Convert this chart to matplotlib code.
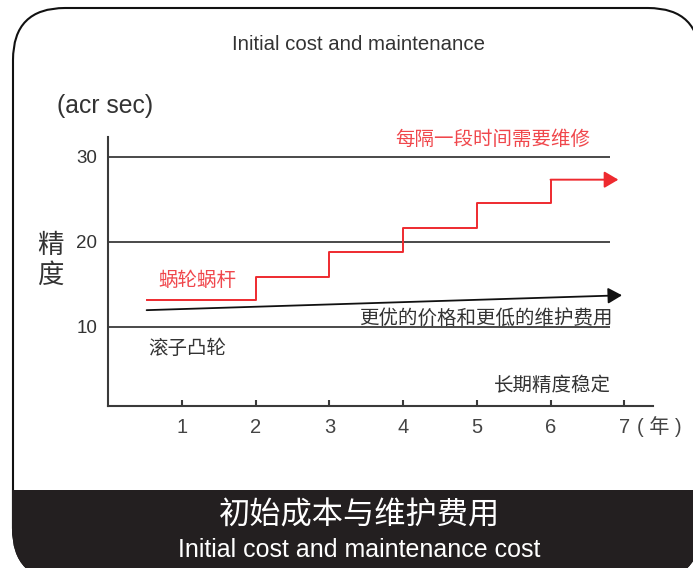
import matplotlib
matplotlib.use("Agg")
import matplotlib.pyplot as plt
from matplotlib.patches import FancyBboxPatch, Rectangle

plt.rcParams['font.family'] = ['Liberation Sans', 'Noto Sans CJK SC', 'DejaVu Sans']
CJK = ['Noto Sans CJK SC', 'DejaVu Sans']
MIX = ['Liberation Sans', 'Noto Sans CJK SC', 'DejaVu Sans']

# ---- data ----
years = [1, 2, 3, 4, 5, 6, 7]
y_ticks = [10, 20, 30]
step_x = [0.53, 2, 3, 4, 5, 6]          # where each red level starts
step_levels = [13.1, 15.9, 18.8, 21.6, 24.5, 27.3]
step_end_x = 6.92
black_x = [0.52, 6.97]
black_y = [11.95, 13.7]
grid_end_x = 6.81

RED = '#ee2a2f'
RED_TXT = '#f0474c'
DARK = '#3a3a3a'
TXT = '#333333'

W, H = 693, 568
fig = plt.figure(figsize=(W / 100, H / 100), dpi=100)

# background overlay in pixel coordinates
bg = fig.add_axes([0, 0, 1, 1], zorder=0)
bg.set_xlim(0, W)
bg.set_ylim(H, 0)
bg.axis('off')

frame = FancyBboxPatch((13, 8), 687, 572, boxstyle='round,pad=0,rounding_size=52',
                       fc='white', ec='#111111', lw=1.5)
bg.add_patch(frame)
band = FancyBboxPatch((13, 8), 687, 572, boxstyle='round,pad=0,rounding_size=52',
                      fc='#231f20', ec='#231f20', lw=1.5)
bg.add_patch(band)
clip = Rectangle((0, 490), W, 200, transform=bg.transData)
band.set_clip_path(clip)

bg.text(359, 44.5, 'Initial cost and maintenance', ha='center', va='center',
        fontsize=14.7, color=TXT)
bg.text(57, 106, '(acr sec)', ha='left', va='center', fontsize=17.8, color=TXT)
bg.text(50, 245, '精', ha='center', va='center', fontsize=19, color=TXT, family=CJK)
bg.text(50, 275, '度', ha='center', va='center', fontsize=19, color=TXT, family=CJK)

bg.text(395, 139, '每隔一段时间需要维修', ha='left', va='center', fontsize=14,
        color=RED_TXT, family=CJK)
bg.text(158, 280, '蜗轮蜗杆', ha='left', va='center', fontsize=14,
        color=RED_TXT, family=CJK)
bg.text(613, 318, '更优的价格和更低的维护费用', ha='right', va='center', fontsize=14,
        color=TXT, family=CJK)
bg.text(148, 348, '滚子凸轮', ha='left', va='center', fontsize=14,
        color=TXT, family=CJK)
bg.text(611, 385, '长期精度稳定', ha='right', va='center', fontsize=14,
        color=TXT, family=CJK)
bg.text(637, 427, '( 年 )', ha='left', va='center', fontsize=14.5,
        color='#444444', family=MIX)

bg.text(360, 516, '初始成本与维护费用', ha='center', va='center', fontsize=22.5,
        color='white', family=CJK)
bg.text(359, 550, 'Initial cost and maintenance cost', ha='center', va='center',
        fontsize=18, color='white')

# main axes
ax = fig.add_axes([108.3 / W, 1 - 405.7 / H, (653 - 108.3) / W, (405.7 - 137) / H], zorder=1)
ax.patch.set_alpha(0)
ax.set_xlim(0, 7.39)
ax.set_ylim(0.71, 32.32)
for s in ['top', 'right']:
    ax.spines[s].set_visible(False)
for s in ['left', 'bottom']:
    ax.spines[s].set_color(DARK)
    ax.spines[s].set_linewidth(1.5)

ax.set_yticks(y_ticks)
ax.set_yticklabels([str(v) for v in y_ticks])
ax.tick_params(axis='y', length=0, pad=8, labelsize=13.5, labelcolor=TXT)
ax.set_xticks(years)
ax.set_xticklabels([str(v) for v in years])
ax.tick_params(axis='x', direction='in', length=4, width=1.5, color=DARK,
               pad=9, labelsize=14.5, labelcolor='#444444')

ax.hlines(y_ticks, 0, grid_end_x, color=DARK, lw=1.3)

# red step line
ax.step(step_x, step_levels, where='post', color=RED, lw=1.4)
ax.annotate('', xy=(step_end_x, step_levels[-1]), xytext=(step_x[-1], step_levels[-1]),
            arrowprops=dict(arrowstyle='-|>,head_length=0.85,head_width=0.5',
                            color=RED, lw=1.4, shrinkA=0, shrinkB=0))
# black trend arrow
ax.annotate('', xy=(black_x[1], black_y[1]), xytext=(black_x[0], black_y[0]),
            arrowprops=dict(arrowstyle='-|>,head_length=0.85,head_width=0.48',
                            color='#111111', lw=1.3, shrinkA=0, shrinkB=0))

fig.savefig('out.png', dpi=100)
